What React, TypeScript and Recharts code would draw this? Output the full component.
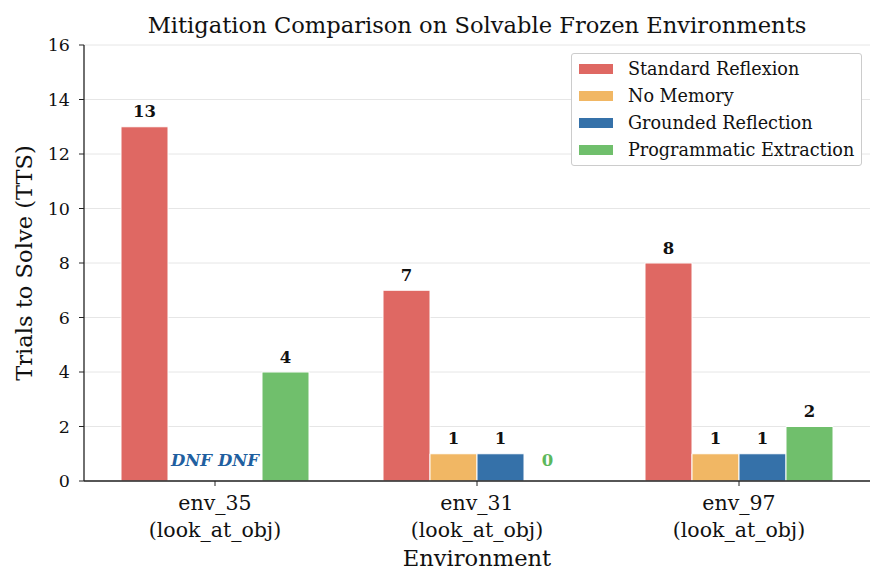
import React from 'react';
import { BarChart, Bar, XAxis, YAxis, CartesianGrid, LabelList, Label } from 'recharts';

const environments = ['env_35', 'env_31', 'env_97'];
const taskNames = ['(look_at_obj)', '(look_at_obj)', '(look_at_obj)'];
// null = did not finish
const standardReflexion = [13, 7, 8];
const noMemory = [null, 1, 1];
const groundedReflection = [null, 1, 1];
const programmaticExtraction = [4, 0, 2];
const yTicks = [0, 2, 4, 6, 8, 10, 12, 14, 16];

const series = [
  { key: 'standard', name: 'Standard Reflexion', values: standardReflexion, color: '#df6863', text: '#dc5550' },
  { key: 'nomem', name: 'No Memory', values: noMemory, color: '#f1b764', text: '#e89a30' },
  { key: 'grounded', name: 'Grounded Reflection', values: groundedReflection, color: '#3571a9', text: '#1f5fa0' },
  { key: 'programmatic', name: 'Programmatic Extraction', values: programmaticExtraction, color: '#70bf6c', text: '#5cb85c' },
];

const data = environments.map((env, i) => {
  const row: any = { env, task: taskNames[i] };
  series.forEach(s => {
    const v = s.values[i];
    row[s.key] = v === null ? 0 : v;
  });
  return row;
});

const FONT = '"DejaVu Serif", serif';
const LABEL_SIZE = 16.5;

// labels for bars with a height (value > 0)
const valueLabel = (props: any) => {
  const { x, y, width, value } = props;
  if (!value) return null;
  return (
    <text x={x + width / 2} y={y - 15} textAnchor="middle" dominantBaseline="central" fontFamily={FONT} fontSize={LABEL_SIZE} fontWeight="bold" fill="#111">
      {value}
    </text>
  );
};

// zero-height bars get no label from recharts, so the first series draws the
// DNF / 0 markers for its neighbours, one bar width apart
const groupMarkers = (props: any) => {
  const { x, y, width, height, index } = props;
  const base = y + height;
  const out: any[] = [];
  series.forEach((s, si) => {
    if (si === 0) return;
    const v = s.values[index];
    if (v !== null && v !== 0) return;
    out.push(
      <text key={s.key} x={x + width * (si + 0.5)} y={base - 21} textAnchor="middle" dominantBaseline="central" fontFamily={FONT} fontSize={LABEL_SIZE} fontWeight="bold" fontStyle={v === null ? 'italic' : 'normal'} fill={v === null ? '#1f5fa0' : s.text}>
        {v === null ? 'DNF' : '0'}
      </text>
    );
  });
  return <g>{out}</g>;
};

const EnvTick = (props: any) => {
  const { x, y, payload, index } = props;
  return (
    <g>
      <text x={x} y={y + 15} textAnchor="middle" dominantBaseline="central" fontFamily={FONT} fontSize={20.5} fill="#111">
        {payload.value}
      </text>
      <text x={x} y={y + 42} textAnchor="middle" dominantBaseline="central" fontFamily={FONT} fontSize={20.5} fill="#111">
        {taskNames[index]}
      </text>
    </g>
  );
};

export default function App() {
  return (
    <div style={{ position: 'absolute', left: 0, top: 0, width: 885, height: 585, background: '#fff' }}>
      <div style={{ position: 'absolute', top: 12, left: 84, width: 786, textAlign: 'center', fontFamily: FONT, fontSize: 22.6, color: '#111', whiteSpace: 'nowrap' }}>
        Mitigation Comparison on Solvable Frozen Environments
      </div>
      <BarChart width={885} height={585} data={data} margin={{ top: 45, right: 15, left: 0, bottom: 0 }} barGap={0} barCategoryGap={37}>
        <CartesianGrid vertical={false} stroke="#e6e6e6" />
        <XAxis dataKey="env" height={104} tick={<EnvTick />} tickLine={{ stroke: '#222' }} axisLine={{ stroke: '#222', strokeWidth: 1.3 }} tickSize={5} interval={0}>
          <Label value="Environment" position="insideBottom" offset={19} style={{ fontFamily: FONT, fontSize: 22.6, fill: '#111' }} />
        </XAxis>
        <YAxis width={84} domain={[0, 16]} ticks={yTicks} tick={{ fontFamily: FONT, fontSize: 17.5, fill: '#111' }} tickLine={{ stroke: '#222' }} axisLine={{ stroke: '#222', strokeWidth: 1.3 }} tickSize={5} tickMargin={9} interval={0}>
          <Label value="Trials to Solve (TTS)" angle={-90} position="insideLeft" offset={24} style={{ fontFamily: FONT, fontSize: 22.6, fill: '#111', textAnchor: 'middle' }} />
        </YAxis>
        {series.map((s, si) => (
          <Bar key={s.key} dataKey={s.key} name={s.name} fill={s.color} stroke="#fff" strokeWidth={1} isAnimationActive={false}>
            <LabelList dataKey={s.key} content={valueLabel} />
            {si === 0 && <LabelList dataKey={s.key} content={groupMarkers} />}
          </Bar>
        ))}
      </BarChart>
      <div style={{ position: 'absolute', left: 571, top: 53, width: 291, height: 113, background: '#fff', border: '1px solid #ccc', borderRadius: 3, fontFamily: FONT, fontSize: 17.6, color: '#111', boxSizing: 'border-box', paddingTop: 1 }}>
        {series.map(s => (
          <div key={s.key} style={{ display: 'flex', alignItems: 'center', height: 27, whiteSpace: 'nowrap' }}>
            <span style={{ display: 'inline-block', width: 34, height: 10, background: s.color, marginLeft: 7, marginRight: 15 }} />
            <span>{s.name}</span>
          </div>
        ))}
      </div>
    </div>
  );
}
